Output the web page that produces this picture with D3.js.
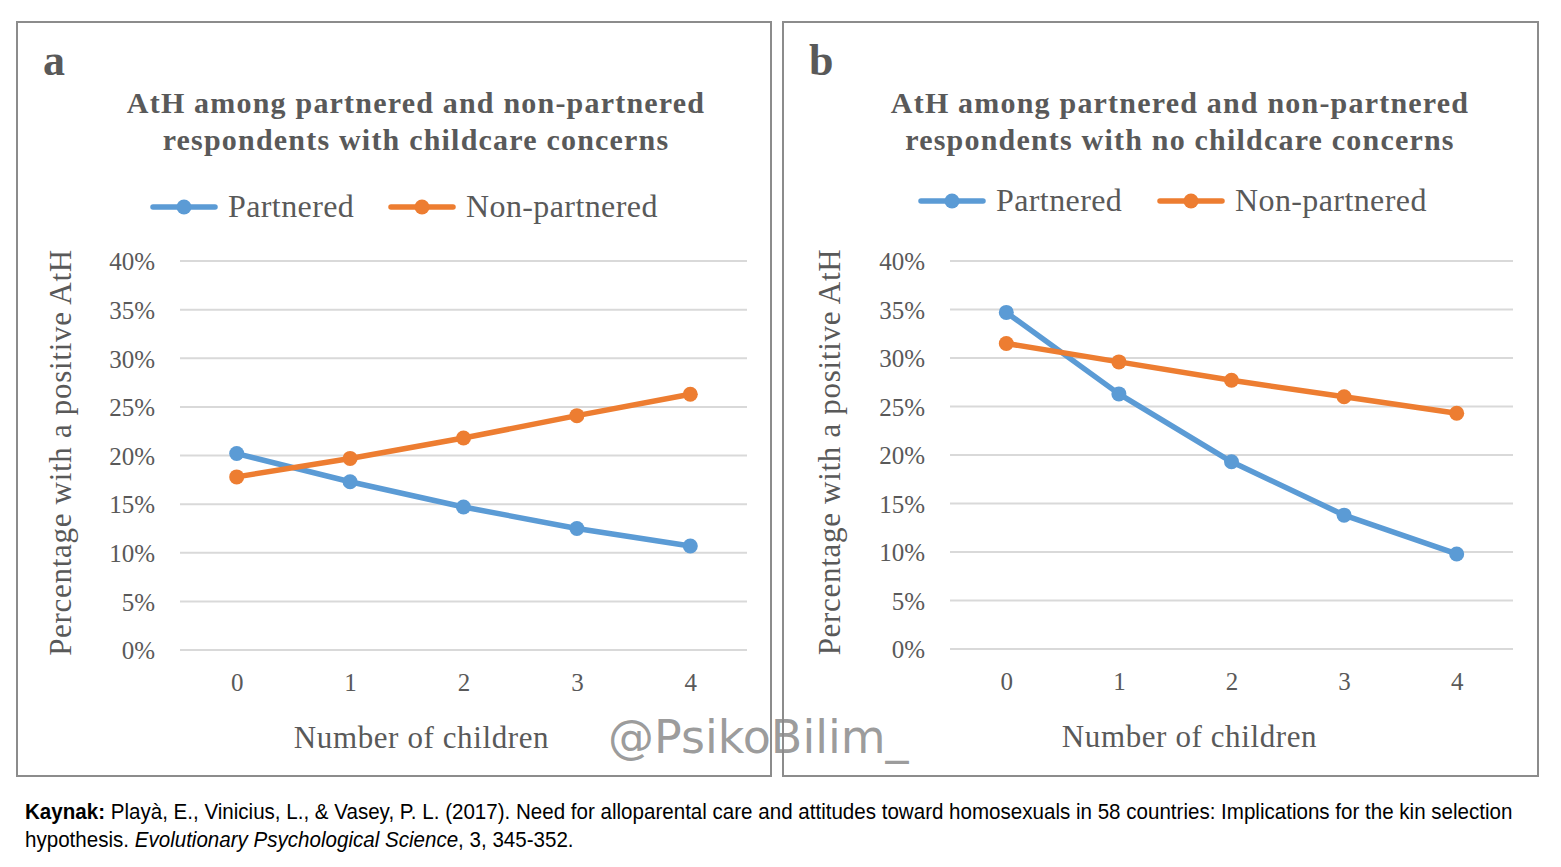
<!DOCTYPE html>
<html>
<head>
<meta charset="utf-8">
<script src="https://cdn.jsdelivr.net/npm/d3@7"></script>
<style>
  body { margin: 0; background: #fff; }
  svg { display: block; }
</style>
</head>
<body>
<svg id="chart" width="1561" height="867"></svg>
<script>
// Data (percent with a positive AtH)
const children = [0, 1, 2, 3, 4];
const yTicks = [0, 5, 10, 15, 20, 25, 30, 35, 40];
const seriesNames = ["Partnered", "Non-partnered"];
const seriesColors = ["#5b9bd5", "#ed7d31"];

const aPartnered = [20.2, 17.3, 14.7, 12.5, 10.7];
const aNonPartnered = [17.8, 19.7, 21.8, 24.1, 26.3];
const bPartnered = [34.7, 26.3, 19.3, 13.8, 9.8];
const bNonPartnered = [31.5, 29.6, 27.7, 26.0, 24.3];

const serif = "'Liberation Serif', 'Times New Roman', serif";
const textGrey = "#595959";

let svg = d3.select("#chart");

// One panel: frame, letter, title, legend, axes and the two lines
function drawPanel(opts) {
    let g = svg.append("g");

    g.append("rect")
        .attr("x", opts.box[0]).attr("y", opts.box[1])
        .attr("width", opts.box[2]).attr("height", opts.box[3])
        .attr("fill", "none").attr("stroke", "#8c8c8c").attr("stroke-width", 2);

    g.append("text")
        .attr("x", opts.box[0] + 26).attr("y", opts.box[1] + 53)
        .attr("font-family", serif).attr("font-weight", "bold")
        .attr("font-size", 44).attr("fill", textGrey)
        .text(opts.letter);

    g.selectAll(".title").data(opts.title).enter().append("text")
        .attr("x", opts.titleX).attr("y", (d, i) => 113 + i * 37)
        .attr("text-anchor", "middle")
        .attr("font-family", serif).attr("font-weight", "bold")
        .attr("font-size", 30).attr("fill", textGrey)
        .attr("letter-spacing", 1.2)
        .text(d => d);

    let x = d3.scalePoint().domain(children).range([opts.plot[0], opts.plot[1]]).padding(0.5);
    let y = d3.scaleLinear().domain([0, 40]).range([opts.plot[3], opts.plot[2]]);

    // grid lines
    g.append("g").selectAll("line").data(yTicks).enter().append("line")
        .attr("x1", opts.plot[0]).attr("x2", opts.plot[1])
        .attr("y1", d => y(d)).attr("y2", d => y(d))
        .attr("stroke", "#d9d9d9").attr("stroke-width", 2);

    // y axis
    let yAxis = g.append("g")
        .attr("transform", `translate(${opts.plot[0] - 22},0)`)
        .call(d3.axisLeft(y).tickValues(yTicks).tickSize(0).tickFormat(d => d + "%"));
    yAxis.select(".domain").remove();
    yAxis.selectAll("text")
        .attr("font-family", serif).attr("font-size", 25).attr("fill", textGrey).attr("dy", "0.35em");

    // x axis
    let xAxis = g.append("g")
        .attr("transform", `translate(0,${opts.plot[3] + 20})`)
        .call(d3.axisBottom(x).tickSize(0));
    xAxis.select(".domain").remove();
    xAxis.selectAll("text")
        .attr("font-family", serif).attr("font-size", 25).attr("fill", textGrey).attr("dy", "0.71em");

    g.append("text")
        .attr("x", (opts.plot[0] + opts.plot[1]) / 2 - 42).attr("y", opts.plot[3] + 98)
        .attr("text-anchor", "middle")
        .attr("font-family", serif).attr("font-size", 31).attr("fill", textGrey)
        .attr("letter-spacing", 0.6)
        .text("Number of children");

    g.append("text")
        .attr("transform", `translate(${opts.yTitleX},${(y(0) + y(40)) / 2 - 3}) rotate(-90)`)
        .attr("text-anchor", "middle")
        .attr("font-family", serif).attr("font-size", 31).attr("fill", textGrey)
        .attr("letter-spacing", 0.7)
        .text("Percentage with a positive AtH");

    let line = d3.line().x((d, i) => x(children[i])).y(d => y(d));

    opts.series.forEach((vals, s) => {
        g.append("path")
            .datum(vals)
            .attr("d", line)
            .attr("fill", "none")
            .attr("stroke", seriesColors[s])
            .attr("stroke-width", 5.5)
            .attr("stroke-linejoin", "round");
        g.selectAll(".pt" + s).data(vals).enter().append("circle")
            .attr("cx", (d, i) => x(children[i])).attr("cy", d => y(d))
            .attr("r", 7.5).attr("fill", seriesColors[s]);
    });

    // legend
    let leg = g.append("g");
    seriesNames.forEach((name, s) => {
        let lx = opts.legendX[s];
        leg.append("line")
            .attr("x1", lx).attr("x2", lx + 62)
            .attr("y1", opts.legendY).attr("y2", opts.legendY)
            .attr("stroke", seriesColors[s]).attr("stroke-width", 5.5).attr("stroke-linecap", "round");
        leg.append("circle")
            .attr("cx", lx + 31).attr("cy", opts.legendY).attr("r", 7.5).attr("fill", seriesColors[s]);
        leg.append("text")
            .attr("x", lx + 75).attr("y", opts.legendY + 10)
            .attr("font-family", serif).attr("font-size", 32).attr("fill", textGrey)
            .attr("letter-spacing", 0.4)
            .text(name);
    });
}

drawPanel({
    letter: "a",
    box: [17, 22, 754, 754],
    title: ["AtH among partnered and non-partnered", "respondents with childcare concerns"],
    titleX: 416,
    plot: [180, 747, 261, 650],
    yTitleX: 71,
    legendX: [153, 391],
    legendY: 207,
    series: [aPartnered, aNonPartnered]
});

drawPanel({
    letter: "b",
    box: [783, 22, 755, 754],
    title: ["AtH among partnered and non-partnered", "respondents with no childcare concerns"],
    titleX: 1180,
    plot: [950, 1513, 261, 649],
    yTitleX: 840,
    legendX: [921, 1160],
    legendY: 201,
    series: [bPartnered, bNonPartnered]
});

// watermark
svg.append("text")
    .attr("x", 608).attr("y", 753)
    .attr("font-family", "'DejaVu Sans', sans-serif")
    .attr("font-size", 46).attr("fill", "#8a8a8a").attr("fill-opacity", 0.85)
    .text("@PsikoBilim_");

// source note, set in a narrow face: squeeze horizontally so line 1 spans the page
const sans = "'Liberation Sans', Arial, sans-serif";
let note = svg.append("g");
let note1 = note.append("text")
    .attr("x", 0).attr("y", 819)
    .attr("font-family", sans).attr("font-size", 22.5).attr("fill", "#000");
note1.append("tspan").attr("font-weight", "bold").text("Kaynak:");
note1.append("tspan").text(" Playà, E., Vinicius, L., & Vasey, P. L. (2017). Need for alloparental care and attitudes toward homosexuals in 58 countries: Implications for the kin selection");

let note2 = note.append("text")
    .attr("x", 0).attr("y", 847)
    .attr("font-family", sans).attr("font-size", 22.5).attr("fill", "#000");
note2.append("tspan").text("hypothesis. ");
note2.append("tspan").attr("font-style", "italic").text("Evolutionary Psychological Science");
note2.append("tspan").text(", 3, 345-352.");

let squeeze = 1488 / note1.node().getComputedTextLength();
note.attr("transform", `translate(25,0) scale(${squeeze},1)`);
</script>
</body>
</html>
